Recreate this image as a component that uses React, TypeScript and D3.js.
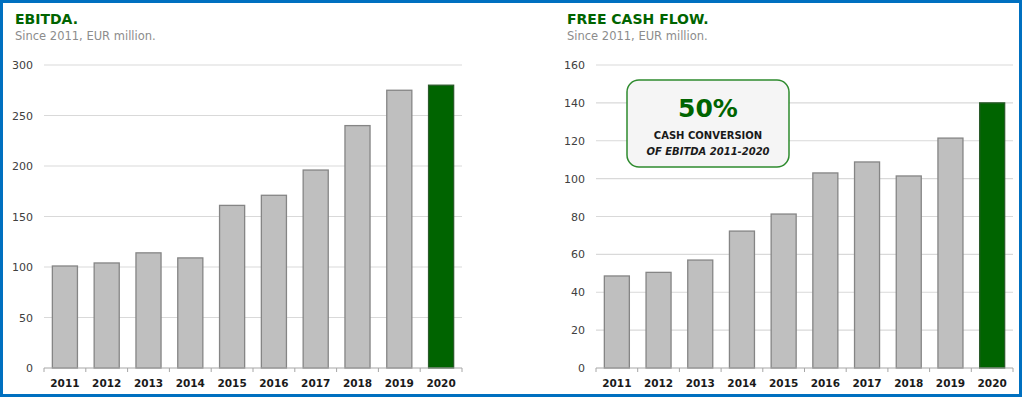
import React from "react";
import * as d3 from "d3";

const years = ["2011", "2012", "2013", "2014", "2015", "2016", "2017", "2018", "2019", "2020"];
const ebitda = [101, 104, 114, 109, 161, 171, 196, 240, 275, 280];
const fcf = [48.6, 50.5, 57, 72.3, 81.3, 103, 108.8, 101.4, 121.4, 140];
const ebitdaTicks = [0, 50, 100, 150, 200, 250, 300];
const fcfTicks = [0, 20, 40, 60, 80, 100, 120, 140, 160];

const W = 1023;
const H = 398;
const FONT = "'DejaVu Sans', Lato, sans-serif";
const GREEN = "#006400";

type PanelProps = {
  title: string;
  values: number[];
  ticks: number[];
  max: number;
  titleX: number;
  x0: number;
  x1: number;
  labelRight: number;
};

function Panel({ title, values, ticks, max, titleX, x0, x1, labelRight }: PanelProps) {
  const y = d3.scaleLinear().domain([0, max]).range([368, 65]);
  const x = d3.scaleBand<string>().domain(years).range([x0, x1]).paddingInner(0.4).paddingOuter(0.2);
  const step = (x1 - x0) / years.length;
  return (
    <g>
      <text x={titleX} y={24} fontFamily={FONT} fontWeight="bold" fontSize={14} fill={GREEN}>
        {title}
      </text>
      <text x={titleX} y={40} fontFamily={FONT} fontSize={11.5} fill="#8c8c8c">
        Since 2011, EUR million.
      </text>
      {ticks.map((t) => (
        <g key={t}>
          {t > 0 && <line x1={x0} x2={x1} y1={y(t)} y2={y(t)} stroke="#d9d9d9" strokeWidth={1.2} />}
          <text x={labelRight} y={y(t) + 4} textAnchor="end" fontFamily={FONT} fontSize={11} fill="#404040">
            {t}
          </text>
        </g>
      ))}
      {values.map((v, i) => (
        <rect
          key={years[i]}
          x={x(years[i])}
          y={y(v)}
          width={x.bandwidth()}
          height={y(0) - y(v)}
          fill={i === years.length - 1 ? GREEN : "#bfbfbf"}
          stroke={i === years.length - 1 ? "#2a5a2a" : "#858585"}
          strokeWidth={1.3}
        />
      ))}
      <line x1={x0} x2={x1} y1={y(0)} y2={y(0)} stroke="#a6a6a6" strokeWidth={1} />
      {d3.range(years.length + 1).map((i) => (
        <line key={i} x1={x0 + i * step} x2={x0 + i * step} y1={y(0)} y2={y(0) + 4} stroke="#a6a6a6" strokeWidth={1} />
      ))}
      {years.map((yr) => (
        <text
          key={yr}
          x={(x(yr) as number) + x.bandwidth() / 2}
          y={387}
          textAnchor="middle"
          fontFamily={FONT}
          fontWeight="bold"
          fontSize={10.5}
          fill="#1a1a1a"
        >
          {yr}
        </text>
      ))}
    </g>
  );
}

export default function App() {
  return (
    <svg width={W} height={H} style={{ position: "absolute", left: 0, top: 0, background: "#fff" }}>
      <rect x={1.5} y={1.5} width={W - 4} height={H - 4} fill="#fff" stroke="#0070c0" strokeWidth={3} />
      <Panel title="EBITDA." values={ebitda} ticks={ebitdaTicks} max={300} titleX={15} x0={44} x1={462} labelRight={33} />
      <Panel title="FREE CASH FLOW." values={fcf} ticks={fcfTicks} max={160} titleX={567} x0={596} x1={1013} labelRight={585} />
      <g>
        <rect x={627} y={80} width={162} height={87} rx={12} ry={12} fill="#f5f5f5" stroke="#2e8b2e" strokeWidth={1.5} />
        <text x={708} y={117} textAnchor="middle" fontFamily={FONT} fontWeight="bold" fontSize={25} fill={GREEN}>
          50%
        </text>
        <text x={708} y={139} textAnchor="middle" fontFamily={FONT} fontWeight="bold" fontSize={10} fill="#1a1a1a">
          CASH CONVERSION
        </text>
        <text x={708} y={155} textAnchor="middle" fontFamily={FONT} fontWeight="bold" fontStyle="italic" fontSize={10} fill="#1a1a1a">
          OF EBITDA 2011-2020
        </text>
      </g>
    </svg>
  );
}
